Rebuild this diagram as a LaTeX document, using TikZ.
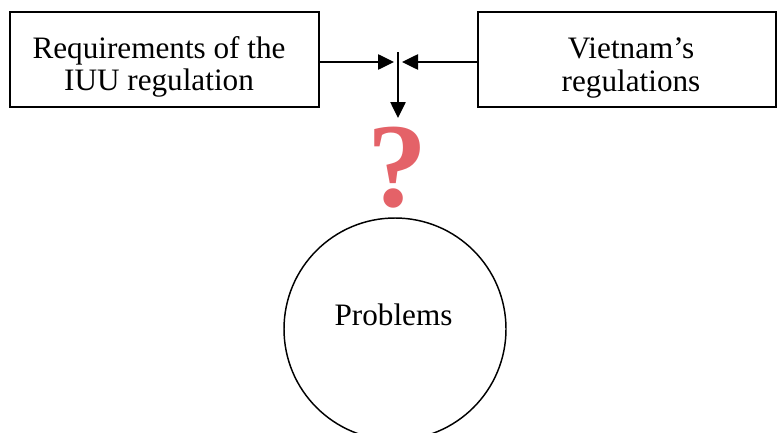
\documentclass[tikz,border=0pt]{standalone}
\usepackage{fontspec}
\setmainfont{Liberation Serif}
\usetikzlibrary{arrows.meta}
\definecolor{qred}{RGB}{228,98,104}
\tikzset{
  box/.style={draw, line width=1.1pt, inner sep=0pt, minimum height=71.25pt},
  txt/.style={align=center, inner sep=0pt, font=\fontsize{23.4}{24.5}\selectfont},
  conn/.style={line width=1.1pt, -{Triangle[length=12pt,width=11.5pt]}},
  qmark/.style={inner sep=0pt, text=qred, font=\fontsize{90}{90}\selectfont\bfseries},
  probcircle/.style={draw, circle, line width=1.1pt, minimum size=166.5pt, inner sep=0pt}
}
\begin{document}
\begin{tikzpicture}[x=0.75pt, y=-0.75pt]
\useasboundingbox (0,0) rectangle (777,432);
\clip (0,0) rectangle (777,432);
% boxes
\node[box, minimum width=231.75pt] (req) at (164.5,59.5) {};
\node[txt] (reqtxt) at (159,67) {Requirements of the\\IUU regulation};
\node[box, minimum width=223.5pt] (viet) at (627,59.5) {};
\node[txt] (viettxt) at (631,68) {Vietnam’s\\regulations};
% junction
\coordinate (jl) at (394,62);
\coordinate (jr) at (402,62);
\coordinate (jtop) at (398,52);
\coordinate (jbot) at (398,118);
\draw[conn] (req.east |- jl) -- (jl);
\draw[conn] (viet.west |- jr) -- (jr);
\draw[conn] (jtop) -- (jbot);
% question mark
\node[qmark] (q) at (397,167.5) {?};
% circle
\node[probcircle] (prob) at (395,329) {};
\node[txt] (probtxt) at (393.5,314.5) {Problems};
\end{tikzpicture}
\end{document}
